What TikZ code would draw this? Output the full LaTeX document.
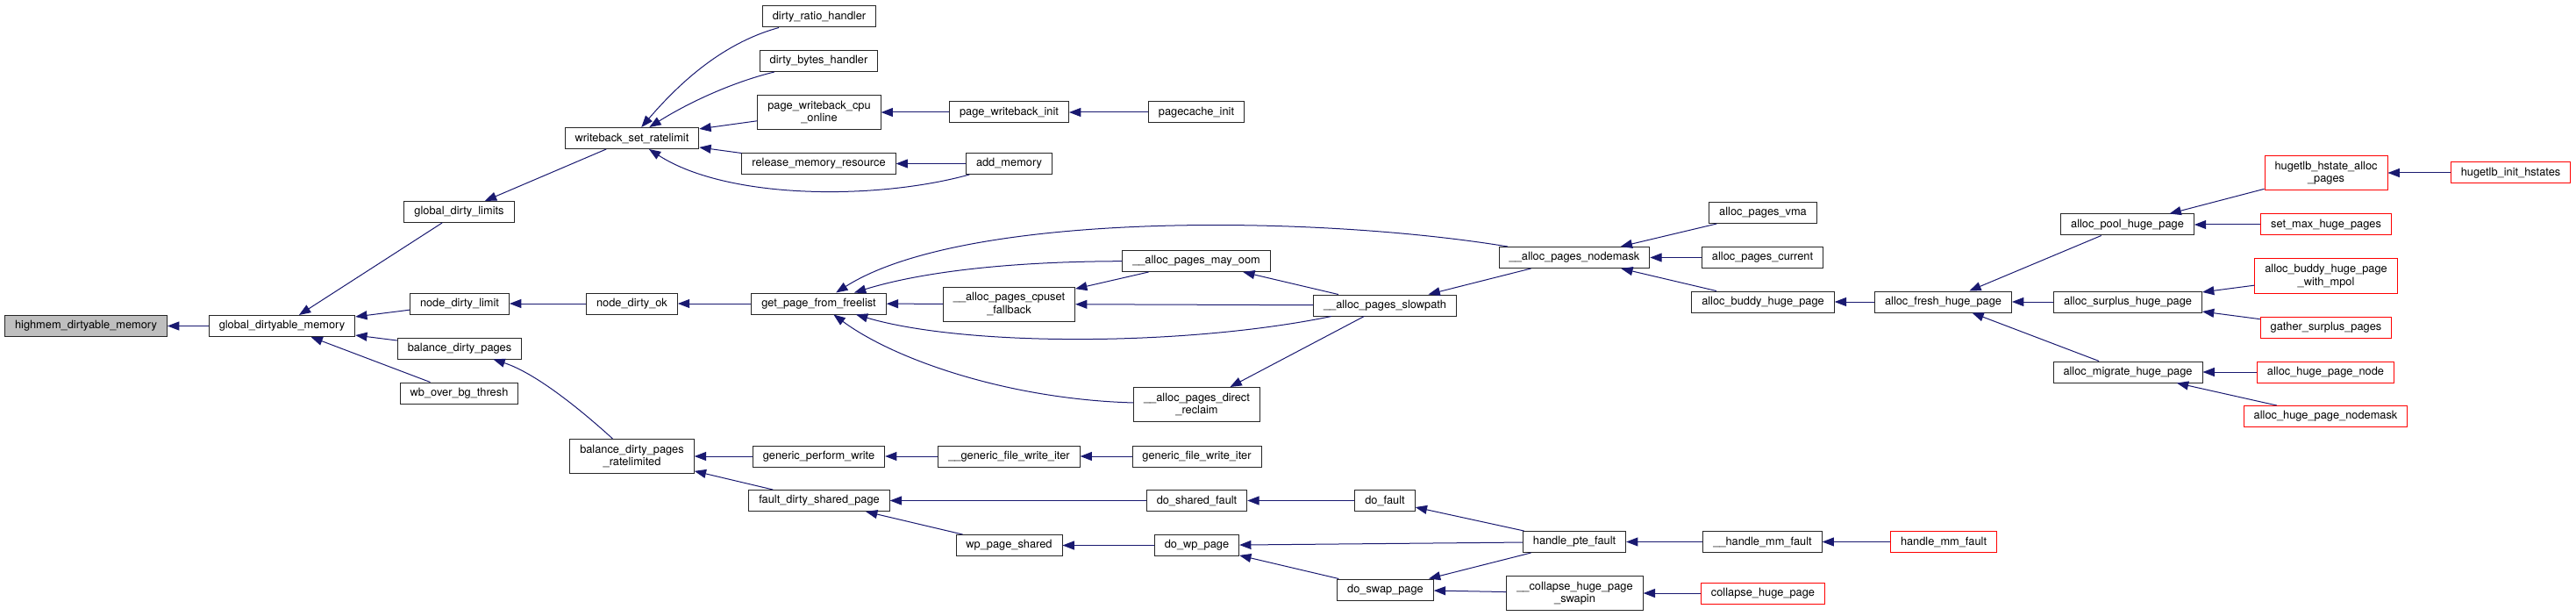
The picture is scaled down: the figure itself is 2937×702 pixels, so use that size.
\documentclass[tikz,border=0pt]{standalone}
\usepackage{fontspec}
\setmainfont{TeX Gyre Heros}
\usepackage{tikz}
\usetikzlibrary{arrows.meta}
\definecolor{edgeblue}{HTML}{191970}
\definecolor{selfgray}{HTML}{BFBFBF}
\definecolor{extred}{HTML}{FF0000}

\begin{document}
\begin{tikzpicture}[
  x=0.75pt, y=-0.75pt,
  fn/.style={
    draw=black!85, fill=white, line width=0.75pt,
    inner xsep=8.6pt, inner ysep=0pt, minimum height=18pt,
    align=center, font=\fontsize{9.6}{10.9}\selectfont
  },
  fntwo/.style={fn, minimum height=29.25pt},
  self/.style={fn, fill=selfgray},
  ext/.style={fn, draw=extred},
  exttwo/.style={fntwo, draw=extred},
  call/.style={-{Triangle[length=10pt, width=7.5pt]}, edgeblue, line width=0.75pt}
]
\useasboundingbox (0,0) rectangle (2937,702);

% ---- Fonction de départ ----
\node[self] (hdm) at (98, 371.5) {highmem\_dirtyable\_memory};
\node[fn] (gdm) at (321.5, 371.5) {global\_dirtyable\_memory};

% ---- Niveau 2 ----
\node[fn] (gdl) at (523.5, 241.5) {global\_dirty\_limits};
\node[fn] (ndl) at (524, 346) {node\_dirty\_limit};
\node[fn] (bdp) at (524, 397) {balance\_dirty\_pages};
\node[fn] (wbt) at (523.5, 448) {wb\_over\_bg\_thresh};

% ---- Niveau 3 ----
\node[fn] (wsr) at (720.5, 157.5) {writeback\_set\_ratelimit};
\node[fn] (ndo) at (720.5, 346) {node\_dirty\_ok};
\node[fntwo] (bdpr) at (720.5, 520) {balance\_dirty\_pages\\\_ratelimited};

% ---- Niveau 4 ----
\node[fn] (drh) at (934, 19) {dirty\_ratio\_handler};
\node[fn] (dbh) at (933.5, 69.5) {dirty\_bytes\_handler};
\node[fntwo] (pwco) at (934, 128) {page\_writeback\_cpu\\\_online};
\node[fn] (rmr) at (933.5, 186.5) {release\_memory\_resource};
\node[fn] (gpff) at (933.5, 346) {get\_page\_from\_freelist};
\node[fn] (gpw) at (933.5, 520) {generic\_perform\_write};
\node[fn] (fdsp) at (934, 570.5) {fault\_dirty\_shared\_page};

% ---- Niveau 5 ----
\node[fn] (pwi) at (1150.5, 128) {page\_writeback\_init};
\node[fn] (addmem) at (1150.5, 186.5) {add\_memory};
\node[fntwo] (apcf) at (1150.5, 346.5) {\_\_alloc\_pages\_cpuset\\\_fallback};
\node[fn] (ugfwi) at (1150.5, 520) {\_\_generic\_file\_write\_iter};
\node[fn] (wps) at (1150.5, 621.5) {wp\_page\_shared};

% ---- Niveau 6 ----
\node[fn] (pci) at (1364, 128) {pagecache\_init};
\node[fn] (apmo) at (1364, 297.5) {\_\_alloc\_pages\_may\_oom};
\node[fntwo] (apdr) at (1364.5, 461) {\_\_alloc\_pages\_direct\\\_reclaim};
\node[fn] (gfwi) at (1364.5, 520) {generic\_file\_write\_iter};
\node[fn] (dsf) at (1364.5, 570.5) {do\_shared\_fault};
\node[fn] (dwp) at (1364.5, 621.5) {do\_wp\_page};

% ---- Niveau 7 ----
\node[fn] (aps) at (1579, 348) {\_\_alloc\_pages\_slowpath};
\node[fn] (dof) at (1579, 570.5) {do\_fault};
\node[fn] (dsp) at (1579.5, 672) {do\_swap\_page};

% ---- Niveau 8 ----
\node[fn] (apn) at (1795, 293.5) {\_\_alloc\_pages\_nodemask};
\node[fn] (hpf) at (1795, 617.5) {handle\_pte\_fault};
\node[fntwo] (chps) at (1795.5, 676) {\_\_collapse\_huge\_page\\\_swapin};

% ---- Niveau 9 ----
\node[fn] (apv) at (2010, 242.5) {alloc\_pages\_vma};
\node[fn] (apc) at (2009.5, 293.5) {alloc\_pages\_current};
\node[fn] (abhp) at (2010, 344) {alloc\_buddy\_huge\_page};
\node[fn] (uhmf) at (2009.5, 617.5) {\_\_handle\_mm\_fault};
\node[ext] (chp) at (2010, 676) {collapse\_huge\_page};

% ---- Niveau 10 ----
\node[fn] (afhp) at (2215.5, 344) {alloc\_fresh\_huge\_page};
\node[ext] (hmf) at (2216, 617.5) {handle\_mm\_fault};

% ---- Niveau 11 ----
\node[fn] (aphp) at (2425.5, 256) {alloc\_pool\_huge\_page};
\node[fn] (ashp) at (2426, 344) {alloc\_surplus\_huge\_page};
\node[fn] (amhp) at (2426, 424) {alloc\_migrate\_huge\_page};

% ---- Niveau 12 ----
\node[exttwo] (hhap) at (2652, 197) {hugetlb\_hstate\_alloc\\\_pages};
\node[ext] (smhp) at (2652, 256) {set\_max\_huge\_pages};
\node[exttwo] (abhpm) at (2652, 314.5) {alloc\_buddy\_huge\_page\\\_with\_mpol};
\node[ext] (gsp) at (2652, 373.5) {gather\_surplus\_pages};
\node[ext] (ahpn) at (2651.5, 424) {alloc\_huge\_page\_node};
\node[ext] (ahpnm) at (2651.5, 474.5) {alloc\_huge\_page\_nodemask};
\node[ext] (hih) at (2862.5, 197) {hugetlb\_init\_hstates};

% Appels (flèche vers l'appelé)
\draw[call] (gdm) -- (hdm);
\draw[call] (gdl) -- (gdm);
\draw[call] (ndl) -- (gdm);
\draw[call] (bdp) -- (gdm);
\draw[call] (wbt) -- (gdm);
\draw[call] (wsr) -- (gdl);
\draw[call] (ndo) -- (ndl);
\draw[call] (bdpr) .. controls (660,465) and (610,425) .. (bdp);

\draw[call] (drh) .. controls (820,50) and (770,100) .. (wsr);
\draw[call] (dbh) .. controls (830,95) and (780,120) .. (wsr);
\draw[call] (pwco) -- (wsr);
\draw[call] (rmr) -- (wsr);
\draw[call] (addmem) .. controls (1000,228) and (830,228) .. (wsr);
\draw[call] (pwi) -- (pwco);
\draw[call] (pci) -- (pwi);
\draw[call] (addmem) -- (rmr);

\draw[call] (gpff) -- (ndo);
\draw[call] (apn) .. controls (1500,245) and (1100,240) .. (gpff);
\draw[call] (apmo) .. controls (1150,298) and (1050,310) .. (gpff);
\draw[call] (apcf) -- (gpff);
\draw[call] (aps) .. controls (1350,395) and (1100,395) .. (gpff);
\draw[call] (apdr) .. controls (1150,455) and (1020,410) .. (gpff);
\draw[call] (apmo) -- (apcf);
\draw[call] (aps) -- (apcf);
\draw[call] (aps) -- (apmo);
\draw[call] (aps) -- (apdr);
\draw[call] (apn) -- (aps);

\draw[call] (apv) -- (apn);
\draw[call] (apc) -- (apn);
\draw[call] (abhp) -- (apn);
\draw[call] (afhp) -- (abhp);
\draw[call] (aphp) -- (afhp);
\draw[call] (ashp) -- (afhp);
\draw[call] (amhp) -- (afhp);
\draw[call] (hhap) -- (aphp);
\draw[call] (smhp) -- (aphp);
\draw[call] (hih) -- (hhap);
\draw[call] (abhpm) -- (ashp);
\draw[call] (gsp) -- (ashp);
\draw[call] (ahpn) -- (amhp);
\draw[call] (ahpnm) -- (amhp);

\draw[call] (gpw) -- (bdpr);
\draw[call] (fdsp) -- (bdpr);
\draw[call] (ugfwi) -- (gpw);
\draw[call] (gfwi) -- (ugfwi);
\draw[call] (dsf) -- (fdsp);
\draw[call] (wps) -- (fdsp);
\draw[call] (dwp) -- (wps);
\draw[call] (dof) -- (dsf);
\draw[call] (hpf) -- (dwp);
\draw[call] (dsp) -- (dwp);
\draw[call] (hpf) -- (dof);
\draw[call] (hpf) -- (dsp);
\draw[call] (chps) -- (dsp);
\draw[call] (uhmf) -- (hpf);
\draw[call] (hmf) -- (uhmf);
\draw[call] (chp) -- (chps);

\end{tikzpicture}
\end{document}
